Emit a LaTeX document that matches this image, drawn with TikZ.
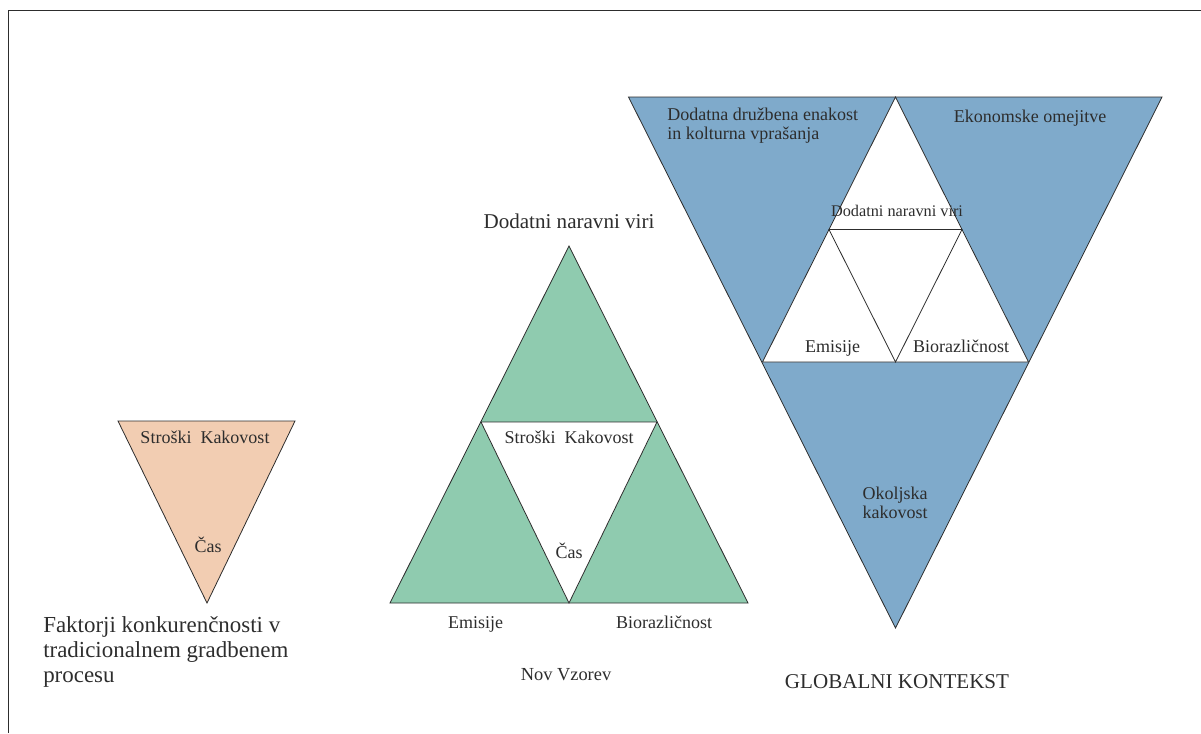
\documentclass[tikz,border=0pt]{standalone}
\usepackage{fontspec}
\setmainfont{Liberation Serif}
\definecolor{peach}{RGB}{242,205,178}
\definecolor{sage}{RGB}{143,203,175}
\definecolor{steel}{RGB}{127,170,203}
\definecolor{inkgray}{RGB}{45,45,45}
\begin{document}
\begin{tikzpicture}[x=0.75pt,y=-0.75pt,
  edge/.style={draw=inkgray, line width=0.6pt, line join=miter},
  frameline/.style={draw=inkgray, line width=1.2pt},
  lbl/.style={anchor=base, inner sep=0pt, text=inkgray, font=\fontsize{13.5}{16}\selectfont},
  lbll/.style={lbl, anchor=base west},
  small/.style={lbl, font=\fontsize{12.2}{14}\selectfont},
  caption/.style={lbl, font=\fontsize{15.8}{18}\selectfont},
  bigcap/.style={lbll, font=\fontsize{17.2}{19}\selectfont}]
\useasboundingbox (0,0) rectangle (1201,733);

% partial frame
\draw[frameline] (8.5,733) -- (8.5,10.5) -- (1201,10.5);

% traditional process: inverted triangle
\filldraw[edge, fill=peach] (118,421) -- (295,421) -- (207,603) -- cycle;
\node[lbl] (t-sk) at (205,443) {Stroški\ \ Kakovost};
\node[lbl] (t-cas) at (208,552) {Čas};
\node[bigcap] (fakt1) at (43,632) {Faktorji konkurenčnosti v};
\node[bigcap] (fakt2) at (43,657) {tradicionalnem gradbenem};
\node[bigcap] (fakt3) at (43,682) {procesu};

% new pattern: upright triangle with inner inverted triangle
\filldraw[edge, fill=sage] (569,246) -- (748,603) -- (390,603) -- cycle;
\filldraw[edge, fill=white] (481,422) -- (657,422) -- (569,603) -- cycle;
\node[caption] (n-viri) at (569,228) {Dodatni naravni viri};
\node[lbl] (n-sk) at (569,443) {Stroški\ \ Kakovost};
\node[lbl] (n-cas) at (569,558) {Čas};
\node[lbl] (n-emi) at (475.5,628) {Emisije};
\node[lbl] (n-bio) at (664,628) {Biorazličnost};
\node[lbl, font=\fontsize{13.8}{16}\selectfont] (n-title) at (566,680) {Nov Vzorev};

% global context: inverted triangle with inner upright triangle
\filldraw[edge, fill=steel] (628.5,97) -- (1162,97) -- (895.5,628) -- cycle;
\filldraw[edge, fill=white] (895.5,97) -- (1028.5,362) -- (762.5,362) -- cycle;
\draw[edge] (829,229.5) -- (962,229.5) -- (895.5,362) -- cycle;
\node[lbll] (g-soc1) at (667,120) {Dodatna družbena enakost};
\node[lbll] (g-soc2) at (667,139.5) {in kolturna vprašanja};
\node[lbl] (g-eko) at (1030,122) {Ekonomske omejitve};
\node[small] (g-viri) at (897,216.5) {Dodatni naravni viri};
\node[lbl] (g-emi) at (832.5,352.5) {Emisije};
\node[lbl] (g-bio) at (961,352.5) {Biorazličnost};
\node[lbl] (g-oko1) at (895,499.5) {Okoljska};
\node[lbl] (g-oko2) at (895,518.5) {kakovost};
\node[caption] (g-title) at (897,688) {GLOBALNI KONTEKST};
\end{tikzpicture}
\end{document}
